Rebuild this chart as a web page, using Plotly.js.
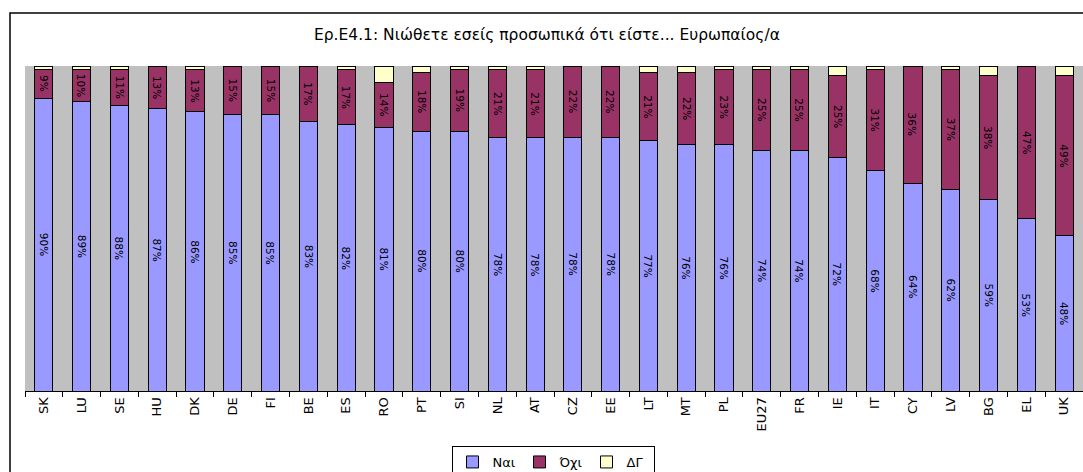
<!DOCTYPE html>
<html>
<head>
<meta charset="utf-8">
<script src="https://cdn.plot.ly/plotly-3.0.1.min.js"></script>
<style>
html,body{margin:0;padding:0;background:#fff;}
#chart{width:1083px;height:472px;}
</style>
</head>
<body>
<div id="chart"></div>
<script>
var countries = ["SK","LU","SE","HU","DK","DE","FI","BE","ES","RO","PT","SI","NL","AT","CZ","EE","LT","MT","PL","EU27","FR","IE","IT","CY","LV","BG","EL","UK"];
var nai = [90,89,88,87,86,85,85,83,82,81,80,80,78,78,78,78,77,76,76,74,74,72,68,64,62,59,53,48];
var oxi = [9,10,11,13,13,15,15,17,17,14,18,19,21,21,22,22,21,22,23,25,25,25,31,36,37,38,47,49];
var dg  = [1,1,1,0,1,0,0,0,1,5,2,1,1,1,0,0,2,2,1,1,1,3,1,0,1,3,0,3];
var seriesNames = ["Ναι","Όχι","ΔΓ"];
var chartTitle = "Ερ.Ε4.1: Νιώθετε εσείς προσωπικά ότι είστε... Ευρωπαίος/α";

var colors = ["#9999FF","#993366","#FFFFCC"];
var font = "DejaVu Sans, Verdana, sans-serif";

function mk(vals, i){
  return {
    type: "bar",
    name: seriesNames[i],
    x: countries,
    y: vals,
    marker: {color: colors[i], line: {color: "#000000", width: 1}},
    width: 0.48,
    textposition: "none",
    hoverinfo: "name+y"
  };
}

var data = [mk(nai,0), mk(oxi,1), mk(dg,2)];

// value labels placed at the middle of each segment, in data coordinates
var annotations = [];
var labFont = {family: font, size: 10.5, color: "#000000"};
countries.forEach(function(c, k){
  annotations.push({x: c, y: nai[k] / 2, xref: "x", yref: "y", text: nai[k] + "%", showarrow: false,
    textangle: 90, font: labFont});
  annotations.push({x: c, y: nai[k] + oxi[k] / 2, xref: "x", yref: "y", text: oxi[k] + "%", showarrow: false,
    textangle: 90, font: labFont});
});

// plot area: x 25..1083, y 66..391
var L = 25, R = 0, T = 66, B = 81;
var pw = 1083 - L - R, ph = 472 - T - B;

var layout = {
  width: 1083, height: 472,
  margin: {l: L, r: R, t: T, b: B, pad: 0, autoexpand: false},
  barmode: "stack",
  paper_bgcolor: "#FFFFFF",
  plot_bgcolor: "#C0C0C0",
  title: {text: chartTitle, font: {family: font, size: 15.5, color: "#000000"}, x: 0.505, xanchor: "center", y: 1 - 35/472, yanchor: "middle"},
  xaxis: {
    type: "category",
    tickangle: -90,
    tickfont: {family: font, size: 13, color: "#000000"},
    ticks: "outside", tickson: "boundaries", ticklen: 5, tickcolor: "#000000", tickwidth: 1,
    showline: true, linecolor: "#000000", linewidth: 1,
    showgrid: false, zeroline: false, fixedrange: true, automargin: false
  },
  yaxis: {
    range: [0, 100], showticklabels: false, showgrid: false, zeroline: false,
    showline: false, ticks: "", fixedrange: true, automargin: false
  },
  showlegend: true,
  legend: {
    orientation: "h", x: (553 - L) / pw, xanchor: "center", y: -(446 - 391) / ph, yanchor: "top",
    font: {family: font, size: 13, color: "#000000"},
    bordercolor: "#000000", borderwidth: 1, bgcolor: "#FFFFFF",
    itemwidth: 30, entrywidth: 22, traceorder: "normal", tracegroupgap: 0
  },
  annotations: annotations,
  shapes: [{
    type: "rect", xref: "paper", yref: "paper",
    x0: (10 - L) / pw, x1: (1090 - L) / pw,
    y0: (391 - 480) / ph, y1: (391 - 13) / ph,
    line: {color: "#000000", width: 1.5}, fillcolor: "rgba(0,0,0,0)", layer: "above"
  }]
};

Plotly.newPlot("chart", data, layout, {displayModeBar: false, staticPlot: true});
</script>
</body>
</html>
